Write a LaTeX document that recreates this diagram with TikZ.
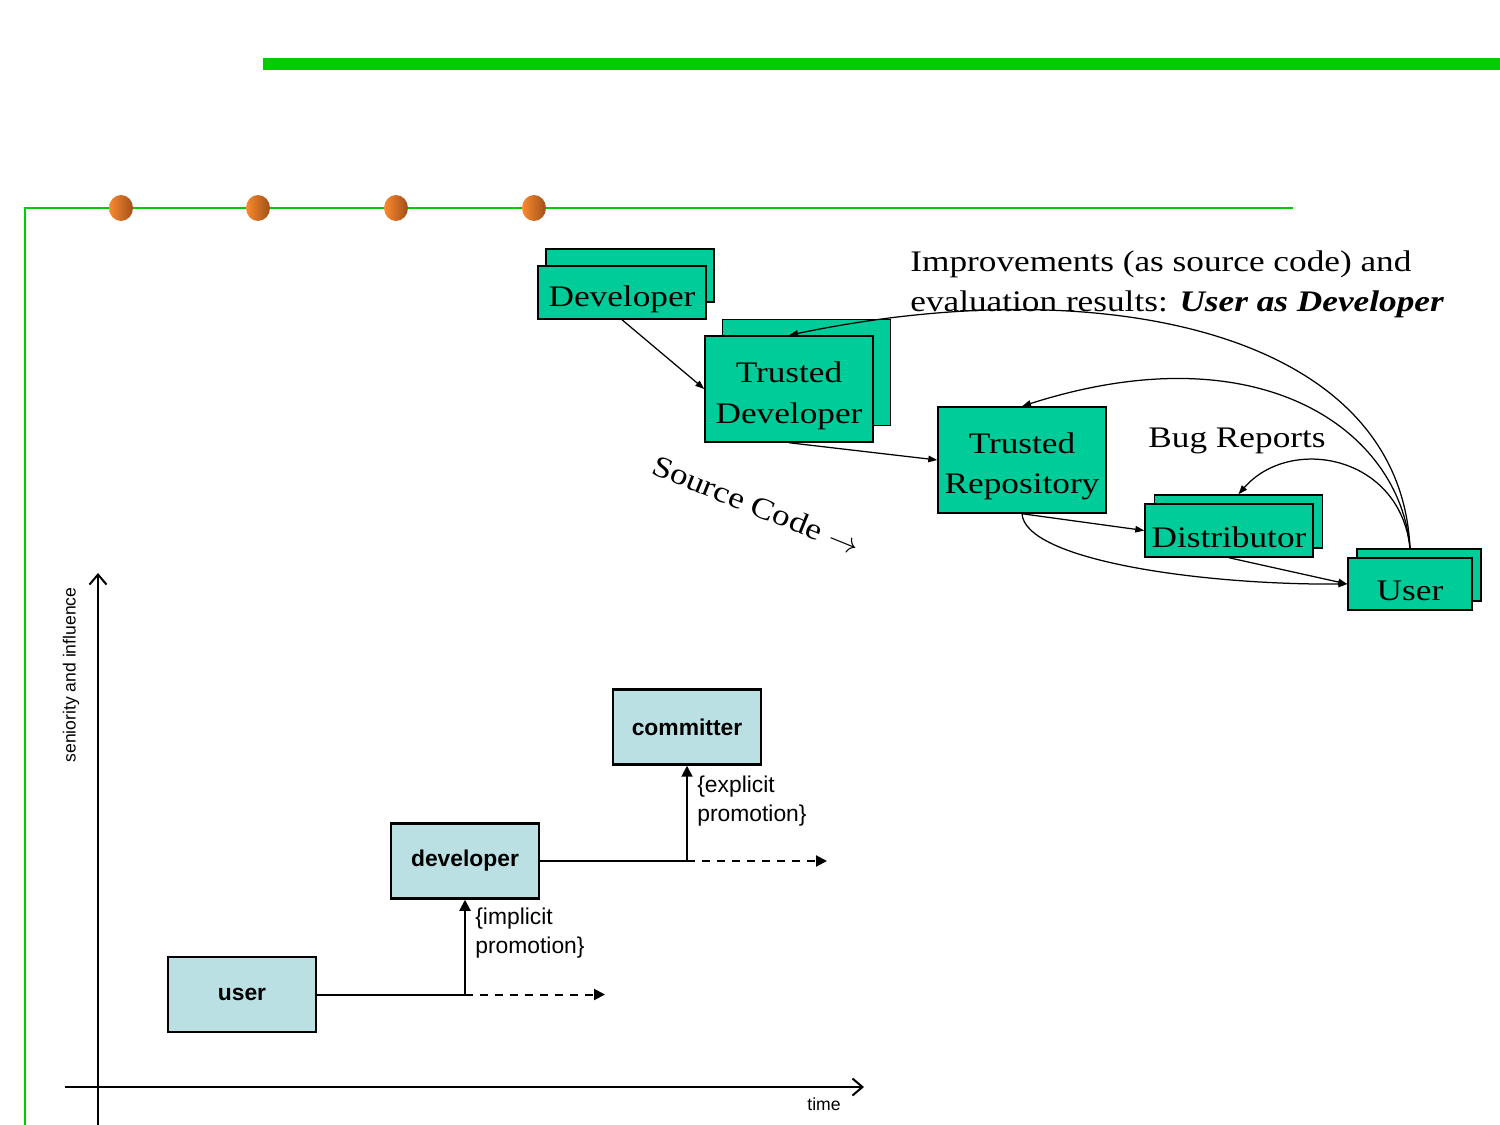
\documentclass[tikz,border=0pt]{standalone}
\usepackage{fontspec}
\setmainfont{Liberation Serif}[FakeStretch=1.18]
\setsansfont{Liberation Sans}
\usetikzlibrary{positioning, arrows.meta, calc}

\definecolor{slidegreen}{RGB}{0,204,0}
\definecolor{rolegreen}{RGB}{0,204,153}
\definecolor{stageblue}{RGB}{187,224,227}
\definecolor{dotorange}{RGB}{250,138,48}
\definecolor{dotbrown}{RGB}{160,80,24}
\newcommand{\rolefont}{\fontsize{17}{23}\selectfont}
\newcommand{\lowstrut}{\rule{0pt}{0.68cm}}

\begin{document}
\begin{tikzpicture}[x=0.02cm, y=-0.02cm,
    rolebox/.style={draw, fill=rolegreen, line width=0.03cm, inner sep=0pt, align=center, font=\rolefont},
    widebox/.style={rolebox, minimum width=3.36cm, minimum height=1.06cm},
    tallbox/.style={rolebox, minimum width=3.36cm, minimum height=2.12cm},
    userbox/.style={rolebox, minimum width=2.48cm, minimum height=1.04cm},
    stagebox/.style={draw, fill=stageblue, line width=0.05cm, minimum width=2.96cm, minimum height=1.5cm, font=\sffamily\bfseries\fontsize{13}{15}\selectfont},
    flow/.style={-{Triangle[length=0.18cm, width=0.13cm]}, line width=0.025cm},
    promo/.style={-{Triangle[length=0.22cm, width=0.22cm]}, line width=0.04cm},
    axisline/.style={-{Straight Barb[length=0.2cm, width=0.34cm]}, line width=0.04cm},
    promonote/.style={font=\sffamily\fontsize{13}{16}\selectfont, align=left, anchor=north west, inner sep=0pt}]

  \useasboundingbox (0,0) rectangle (1500,1125);

  % Slide frame
  \fill[slidegreen] (263,58) rectangle (1500,70);
  \draw[slidegreen, line width=0.04cm] (1293,208) -- (25,208) -- (25,1125);
  \foreach \x in {121,258,396,534}
    \shade[left color=dotorange, right color=dotbrown] (\x,208) ellipse [x radius=0.24cm, y radius=0.26cm];

  % Nodes (roles)
  \node[widebox] (devb) at (630,275.5) {};
  \node[widebox] (dev) at (622,292.5) {\lowstrut Developer};
  \node[tallbox] (tdevb) at (806.5,372.5) {};
  \node[tallbox] (tdev) at (789,389) {\lowstrut Trusted\\Developer};
  \node[tallbox] (trep) at (1022,460) {\lowstrut Trusted\\Repository};
  \node[widebox] (distb) at (1238.5,521.5) {};
  \node[widebox] (dist) at (1229,530.5) {\lowstrut Distributor};
  \node[userbox] (usrb) at (1419,575) {};
  \node[userbox] (usr) at (1410,584) {\lowstrut User};
  \coordinate (usrtop) at (usr.north |- usrb.north);

  \node[font=\rolefont, align=left, anchor=north west, inner sep=0pt] (improve) at (910,250)
    {Improvements (as source code) and\\evaluation results: \textbf{\textit{User as Developer}}};
  \node[font=\rolefont] (bugs) at (1237,441) {Bug Reports};
  \node[font=\rolefont, rotate=-22] (srccode) at (756,505) {Source Code $\rightarrow$};

  % Arrows (roles)
  \draw[flow] (dev.south) -- (tdev.west);
  \draw[flow] (tdev.south) -- (trep.west);
  \draw[flow] (trep.south) -- (dist.west);
  \draw[flow] (dist.south) -- (usr.west);
  \draw[flow] (trep.south) .. controls (1025,560) and (1200,585) .. (usr.west);
  \draw[flow] (usrtop) .. controls (1400,455) and (1290,435) .. (distb.north);
  \draw[flow] (usrtop) .. controls (1400,430) and (1260,330) .. (trep.north);
  \draw[flow] (usrtop) .. controls (1400,330) and (1100,270) .. (tdev.north);

  % Axes
  \coordinate (ybot) at (98,1125);
  \coordinate (ytop) at (98,573);
  \coordinate (xleft) at (65,1087);
  \coordinate (xright) at (864,1087);
  \draw[axisline] (ybot) -- (ytop);
  \draw[axisline] (xleft) -- (xright);
  \node[font=\sffamily\fontsize{10}{12}\selectfont, rotate=90] (senior) at (71,675) {seniority and influence};
  \node[font=\sffamily\fontsize{10}{12}\selectfont] (time) at (824,1104) {time};

  % Nodes (stages)
  \node[stagebox] (user) at (242,994.5) {user};
  \node[stagebox] (developer) at (465,861) {developer};
  \node[stagebox] (committer) at (687,727) {committer};
  \node[promonote] (implicit) at (475,908) {\{implicit\\promotion\}};
  \node[promonote] (explicit) at (697,776) {\{explicit\\promotion\}};

  % Arrows (stages)
  \coordinate (j1) at (developer.south |- user.east);
  \coordinate (j2) at (committer.south |- developer.east);
  \coordinate (e1) at (605,994.5);
  \coordinate (e2) at (827,861);
  \draw[line width=0.04cm] (user.east) -- (j1);
  \draw[line width=0.04cm] (developer.east) -- (j2);
  \draw[promo] (j1) -- (developer.south);
  \draw[promo] (j2) -- (committer.south);
  \draw[promo, dash pattern=on 0.16cm off 0.14cm] (j1) -- (e1);
  \draw[promo, dash pattern=on 0.16cm off 0.14cm] (j2) -- (e2);
\end{tikzpicture}
\end{document}
